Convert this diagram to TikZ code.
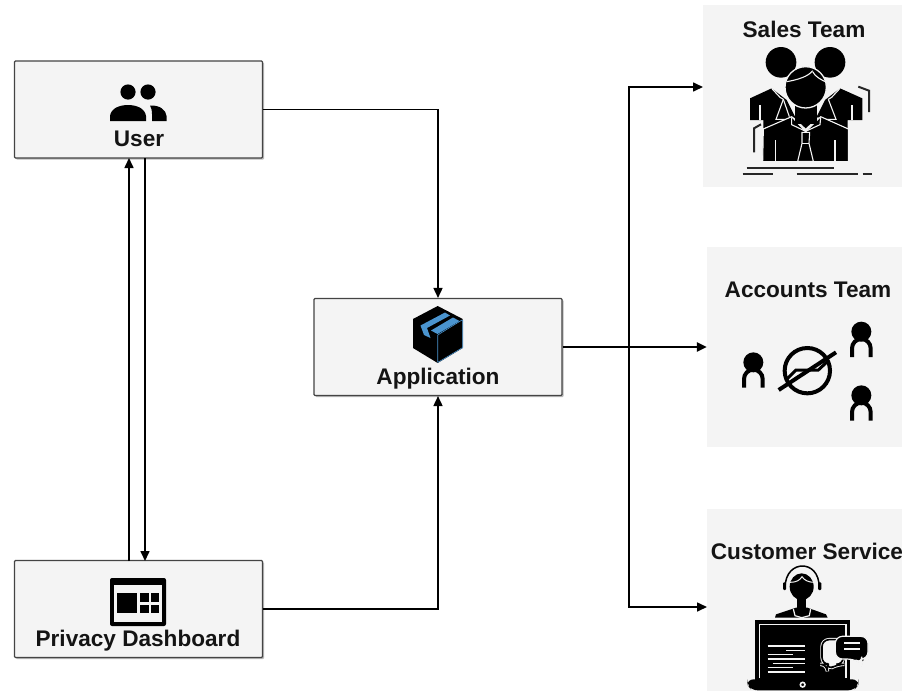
\documentclass[tikz,border=0pt]{standalone}
\usepackage{fontspec}
\setmainfont{Liberation Sans}
\usetikzlibrary{arrows.meta,shadows}
\definecolor{panel}{HTML}{F4F4F4}
\definecolor{edgegray}{HTML}{444444}
\definecolor{tape}{HTML}{4A94CF}
\tikzset{
  box/.style={draw=edgegray,line width=1.1pt,fill=panel,rounded corners=1pt,minimum width=248pt,minimum height=97pt,inner sep=0pt,
    drop shadow={shadow xshift=1.5pt,shadow yshift=-1.5pt,fill=black!45,opacity=0.6}},
  teampanel/.style={fill=panel,draw=none,inner sep=0pt},
  lbl/.style={font=\fontsize{22.6}{24}\selectfont\bfseries,text=black!92,inner sep=0pt,anchor=base},
  conn/.style={draw=black,line width=1.6pt},
  arr/.style={conn,-{Triangle[length=10pt,width=9pt]}},
  gapline/.style={draw=panel,line width=1.1pt},
  bracket/.style={draw=black!85,line width=2pt},
  screenline/.style={draw=panel,line width=1.7pt},
  zoomA/.style={shift={(700,0)},scale=1/3},
  zoomB/.style={shift={(700,245)},scale=1/3},
  zoomC/.style={shift={(700,505)},scale=1/3},
}
\begin{document}
\begin{tikzpicture}[x=1pt,y=-1pt]
\useasboundingbox (0,0) rectangle (902,691);
% team panels
\node[teampanel,minimum width=199pt,minimum height=182pt] (sales) at (802.5,96) {};
\node[teampanel,minimum width=195pt,minimum height=200pt] (accounts) at (804.5,347) {};
\node[teampanel,minimum width=195pt,minimum height=182pt] (service) at (804.5,600) {};
% boxes
\node[box] (user) at (138.5,109.5) {};
\node[box] (app) at (438,347) {};
\node[box] (dash) at (138.5,609) {};
% connector anchors
\coordinate (upB) at (129,561);
\coordinate (upT) at (129,158);
\coordinate (dnT) at (145,158);
\coordinate (dnB) at (145,561);
\coordinate (hub) at (629,347);
\coordinate (salesin) at (703,87);
\coordinate (servicein) at (707,607);
% connectors
\draw[arr] (user.east) -| (app.north);
\draw[arr] (dash.east) -| (app.south);
\draw[arr] (upB) -- (upT);
\draw[arr] (dnT) -- (dnB);
\draw[arr,line width=2.4pt] (app.east) -- (accounts.west);
\draw[arr] (hub) |- (salesin);
\draw[arr] (hub) |- (servicein);
% labels
\node[lbl] (userlbl) at (139,146.5) {User};
\node[lbl] (applbl) at (438,384) {Application};
\node[lbl] (dashlbl) at (138,646) {Privacy Dashboard};
\node[lbl] (saleslbl) at (804,37.5) {Sales Team};
\node[lbl] (acclbl) at (808,297.5) {Accounts Team};
\node[lbl] (servlbl) at (807,559.5) {Customer Service};
% user icon
\fill (128,92) circle (7.6);
\fill (148,92) circle (7.6);
\fill (110,121) -- (110,116) .. controls (111,108) and (120,105) .. (128,105) .. controls (136,105) and (145,108) .. (146,116) -- (146,121) -- cycle;
\fill (150,105.5) .. controls (160,105) and (166,110) .. (166.5,116) -- (166.5,121) -- (152,121) -- (152,114) .. controls (152,110) and (151,107) .. (150,105.5) -- cycle;
% application icon
\fill[black] (437.7,306) -- (462.7,319) -- (462.7,348) -- (437.7,363) -- (413,348) -- (413,319) -- cycle;
\fill[tape] (420.5,325.5) -- (445,312.5) -- (450,315.5) -- (427,328) -- (430.5,338) -- (424,335) -- cycle;
\fill[tape] (431,330.5) -- (453,317.5) -- (459.5,321) -- (437.5,334) -- cycle;
\draw[tape,line width=0.6pt] (437.7,335) -- (437.7,362) (437.7,335) -- (462,320) (462.7,320) -- (462.7,347.5) -- (437.7,362.5);
% dashboard icon
\fill[rounded corners=2pt] (110,578) rectangle (166,626);
\fill[panel] (114,585) rectangle (162,622);
\fill (117.3,593) rectangle (136.7,613.3);
\fill (140,593.3) rectangle (149.3,602.3);
\fill (151,593.3) rectangle (159.3,602.3);
\fill (140,605) rectangle (149.3,613.3);
\fill (151,605) rectangle (159.3,613.3);
% sales icon
\begin{scope}[zoomA]
\fill (243,187) circle (46);
\fill (390,187) circle (46);
\fill (150,295) -- (215,265) -- (260,300) -- (285,350) -- (190,385) -- (190,360) -- (150,360) -- cycle;
\fill (487,295) -- (420,265) -- (375,300) -- (350,350) -- (443,385) -- (443,360) -- (487,360) -- cycle;
\draw[gapline] (180,360) -- (180,315);
\draw[gapline] (456,360) -- (456,315);
\draw[gapline] (215,265) -- (240,292) -- (250,298);
\draw[gapline] (250,298) -- (228,358) -- (268,358);
\draw[gapline] (250,298) -- (268,350);
\draw[gapline] (420,265) -- (395,292) -- (385,298);
\draw[gapline] (385,298) -- (408,358) -- (367,358);
\draw[draw=panel,fill=black,line width=1.1pt] (190,387) -- (275,350) -- (317,395) -- (362,350) -- (445,387) -- (445,485) -- (188,485) -- cycle;
\fill (285,310) rectangle (350,372);
\fill (280,350) -- (317,385) -- (355,350) -- cycle;
\draw[draw=panel,line width=1.1pt,line join=miter] (275,352) -- (275,374) -- (317,394) -- (360,374) -- (362,352);
\draw[gapline] (226,484) -- (226,420);
\draw[gapline] (405,484) -- (405,420);
\draw[gapline] (306,397) -- (329,397) -- (327,430) -- (340,484) -- (293,484) -- (306,430) -- cycle;
\draw[gapline] (306,430) -- (327,430);
\draw[draw=panel,fill=black,line width=1.3pt] (317,262) circle (62);
\draw[gapline] (260,245) .. controls (290,240) and (325,230) .. (338,212);
\draw[gapline] (338,215) .. controls (345,230) and (365,240) .. (376,245);
\draw[bracket] (162,457) -- (162,385) -- (183,373);
\draw[bracket] (507,336) -- (507,272) -- (475,260);
\draw[bracket] (140,505) -- (403,505);
\draw[bracket] (128,521) -- (218,521);
\draw[bracket] (290,521) -- (475,521);
\draw[bracket] (488,521) -- (517,521);
\end{scope}
% accounts icon
\begin{scope}[zoomB]
\foreach \px/\py in {160/352,484/260,484/451}{
  \fill (\px,\py) circle (30);
  \draw[line width=4pt] (\px-28,\py+76) -- (\px-28,\py+50) arc[start angle=180,end angle=360,radius=28] -- (\px+28,\py+76);
}
\draw[line width=4pt] (322,377) circle (68);
\draw[line width=4pt] (236,435) -- (408,322);
\draw[line width=3pt] (258,405) -- (288,375) -- (355,375) -- (385,347);
\end{scope}
% customer service icon
\begin{scope}[zoomC]
\draw[line width=1.5pt] (255,250) .. controls (255,200) and (285,183) .. (307,183) .. controls (330,183) and (358,200) .. (358,250);
\fill[rounded corners=1pt] (249,232) rectangle (258,255);
\fill[rounded corners=1pt] (354,232) rectangle (364,255);
\fill (305,245) ellipse (36 and 40);
\draw[draw=panel,line width=1pt] (270,232) .. controls (290,232) and (300,225) .. (306,215) .. controls (312,225) and (325,232) .. (342,232);
\fill (292,280) rectangle (318,315);
\fill (225,338) -- (228,328) -- (288,308) -- (322,308) -- (378,328) -- (383,338) -- cycle;
\draw[draw=panel,line width=1.2pt] (280,312) -- (285,332) -- (305,338) -- (328,332) -- (332,312);
\fill (165,345) rectangle (451,525);
\draw[draw=panel,line width=1.3pt] (178,520) -- (178,358) -- (438,358) -- (438,520);
\fill[rounded corners=6pt] (142,523) -- (475,523) -- (475,540) -- (462,556) -- (155,556) -- (142,540) -- cycle;
\draw[draw=panel,line width=1.6pt] (308,539) circle (7);
\foreach \ya/\xa/\xb in {423/203/315,436/258/315,449/203/278,462/203/315,475/218/315,488/203/278,501/203/315}{
  \draw[screenline,line width=1.6pt] (\xa,\ya) -- (\xb,\ya);
}
% chat bubbles
\draw[draw=panel,line width=3.4pt,rounded corners=7pt] (366,404) -- (430,404) -- (430,478) -- (412,478) -- (382,495) -- (382,478) -- (366,478) -- cycle;
\draw[draw=black,fill=panel,line width=1.6pt,rounded corners=7pt] (366,404) -- (430,404) -- (430,478) -- (412,478) -- (382,495) -- (382,478) -- (366,478) -- cycle;
\draw[draw=panel,fill=black,line width=1.2pt,rounded corners=7pt] (406,394) -- (504,394) -- (504,462) -- (485,462) -- (485,476) -- (462,462) -- (406,462) -- cycle;
\draw[screenline] (432,414) -- (480,414);
\draw[screenline] (432,433) -- (480,433);
\end{scope}
\end{tikzpicture}
\end{document}
